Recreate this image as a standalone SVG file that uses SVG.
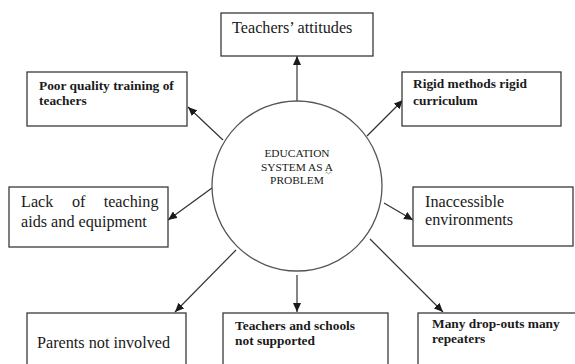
<svg xmlns="http://www.w3.org/2000/svg" width="575" height="364" viewBox="0 0 575 364">
  <style>
    .box { fill: #ffffff; stroke: #3a3a3a; stroke-width: 1.3; }
    .hub { fill: #ffffff; stroke: #555555; stroke-width: 1.3; }
    text { font-family: 'Liberation Serif', 'Times New Roman', Times, serif; fill: #1a1a1a; }
    .reg { font-size: 16.2px; }
    .bold { font-size: 13.4px; font-weight: bold; }
    .hubtext { font-size: 11.4px; text-anchor: middle; }
    .link { stroke: #333333; stroke-width: 1.2; fill: none; marker-end: url(#arrow); }
  </style>
  <defs>
    <marker id="arrow" markerUnits="userSpaceOnUse" markerWidth="10" markerHeight="8" refX="9" refY="4" orient="auto">
      <path d="M0,0 L9,4 L0,8 Z" fill="#1a1a1a"/>
    </marker>
  </defs>

  <rect width="575" height="364" fill="#ffffff"/>

  <!-- connectors from the central circle out to each cause -->
  <g id="connectors">
    <line class="link" x1="297" y1="101" x2="297" y2="56"/>
    <line class="link" x1="223" y1="140" x2="188" y2="107"/>
    <line class="link" x1="367" y1="136" x2="403" y2="100"/>
    <line class="link" x1="212" y1="188" x2="168" y2="220"/>
    <line class="link" x1="384" y1="203" x2="413" y2="220"/>
    <line class="link" x1="236" y1="250" x2="175" y2="312"/>
    <line class="link" x1="297" y1="275" x2="297" y2="312"/>
    <line class="link" x1="370" y1="239" x2="443" y2="312"/>
  </g>

  <g id="hub">
    <circle class="hub" cx="297" cy="186" r="85"/>
    <text class="hubtext" x="297" y="157">EDUCATION</text>
    <text class="hubtext" x="297" y="170.5">SYSTEM AS A</text>
    <text class="hubtext" x="297" y="184">PROBLEM</text>
    <!-- small green wavy underline beneath the final "A" -->
    <path d="M325.5,173 q1,-1.5 2,0 t2,0 t2,0" fill="none" stroke="#5aa05a" stroke-width="0.8"/>
  </g>

  <g id="teachers-attitudes">
    <rect class="box" x="221" y="13" width="152" height="43"/>
    <text class="reg" x="232" y="33">Teachers’ attitudes</text>
  </g>

  <g id="poor-training">
    <rect class="box" x="27" y="72" width="160" height="54"/>
    <text class="bold" x="39" y="90">Poor quality training of</text>
    <text class="bold" x="39" y="105">teachers</text>
  </g>

  <g id="rigid-methods">
    <rect class="box" x="402" y="72" width="159" height="54"/>
    <text class="bold" x="413" y="88">Rigid methods rigid</text>
    <text class="bold" x="413" y="105">curriculum</text>
  </g>

  <g id="lack-of-aids">
    <rect class="box" x="9" y="187" width="159" height="60"/>
    <text class="reg" x="21" y="207">Lack</text>
    <text class="reg" x="72" y="207">of</text>
    <text class="reg" x="158.5" y="207" text-anchor="end">teaching</text>
    <text class="reg" x="21" y="227">aids and equipment</text>
  </g>

  <g id="inaccessible">
    <rect class="box" x="413" y="187" width="160" height="59"/>
    <text class="reg" x="425" y="207">Inaccessible</text>
    <text class="reg" x="425" y="225">environments</text>
  </g>

  <g id="parents">
    <rect class="box" x="27" y="313" width="159" height="60"/>
    <text class="reg" x="37" y="348">Parents not involved</text>
  </g>

  <g id="not-supported">
    <rect class="box" x="223" y="313" width="165" height="60"/>
    <text class="bold" x="235" y="330">Teachers and schools</text>
    <text class="bold" x="235" y="345">not supported</text>
  </g>

  <g id="drop-outs">
    <rect class="box" x="418" y="313" width="162" height="60"/>
    <text class="bold" x="432" y="328">Many drop-outs many</text>
    <text class="bold" x="432" y="343">repeaters</text>
  </g>
</svg>
